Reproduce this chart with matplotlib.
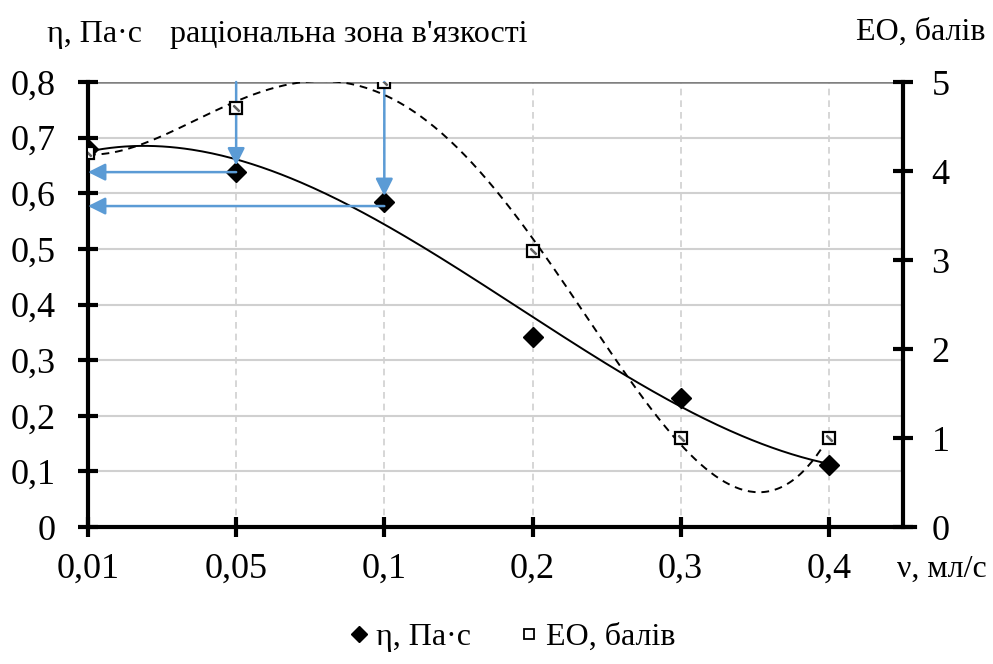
import numpy as np
import matplotlib
matplotlib.use("Agg")
import matplotlib.pyplot as plt

plt.rcParams['font.family'] = ['Liberation Serif', 'DejaVu Serif']

# data
flow_labels = ['0,01', '0,05', '0,1', '0,2', '0,3', '0,4']
viscosity = [0.68, 0.638, 0.585, 0.342, 0.232, 0.111]
eo_score = [4.2, 4.71, 5.0, 3.1, 1.0, 1.0]
left_ticks = [0, 0.1, 0.2, 0.3, 0.4, 0.5, 0.6, 0.7, 0.8]
left_tick_labels = ['0', '0,1', '0,2', '0,3', '0,4', '0,5', '0,6', '0,7', '0,8']
right_ticks = [0, 1, 2, 3, 4, 5]

x = np.arange(len(flow_labels))
xs = np.linspace(0, len(flow_labels) - 1, 300)
blue = '#5b9bd5'

fig = plt.figure(figsize=(9.93, 6.64), dpi=100)
ax = fig.add_axes([0.0886, 0.2063, 0.8207, 0.6702])
ax2 = ax.twinx()

# grid
for xi in x[1:]:
    ax.axvline(xi, color='#d0d0d0', lw=1.2, ls=(0, (4, 3)), zorder=0)
for yt in left_ticks[1:-1]:
    ax.axhline(yt, color='#d0d0d0', lw=1.5, zorder=0)
ax.axhline(0.8, color='#808080', lw=1.8, zorder=0)

# trendlines
p_eta = np.polyfit(x, viscosity, 3)
p_eo = np.polyfit(x, eo_score, 4)
ax.plot(xs, np.polyval(p_eta, xs), color='black', lw=1.4, zorder=3)
ax2.plot(xs, np.polyval(p_eo, xs), color='black', lw=1.4, ls=(0, (4, 3)), zorder=3)

# markers
ax.plot(x, viscosity, ls='none', marker='D', ms=10, color='black', zorder=4)
ax2.plot(x, eo_score, ls='none', marker='s', ms=8.5, mfc='white', mec='black', mew=1.6, zorder=4)
ax2.plot(x, eo_score, ls='none', marker=(2, 2, 45), ms=6, mec='#606060', mew=1.6, zorder=5)

# arrows
arr = dict(arrowstyle='-|>', color=blue, lw=1.8, mutation_scale=26, shrinkA=0, shrinkB=0)
ax.annotate('', xy=(1, viscosity[1] + 0.012), xytext=(1, 0.8), arrowprops=arr, zorder=6)
ax.annotate('', xy=(0, 0.638), xytext=(1, 0.638), arrowprops=arr, zorder=6)
ax.annotate('', xy=(2, viscosity[2] + 0.01), xytext=(2, 0.8), arrowprops=arr, zorder=6)
ax.annotate('', xy=(0, 0.577), xytext=(2, 0.577), arrowprops=arr, zorder=6)

ax.set_xlim(0, 5.5)
ax.set_ylim(0, 0.8)
ax2.set_ylim(0, 5)
ax.set_xticks(x)
ax.set_xticklabels(flow_labels)
ax.set_yticks(left_ticks)
ax.set_yticklabels(left_tick_labels)
ax2.set_yticks(right_ticks)

for a in (ax, ax2):
    for s in a.spines.values():
        s.set_visible(False)
ax.spines['left'].set_visible(True)
ax.spines['bottom'].set_visible(True)
ax2.spines['right'].set_visible(True)
ax.spines['left'].set_linewidth(3)
ax.spines['bottom'].set_linewidth(3)
ax2.spines['right'].set_linewidth(3)
ax.spines['bottom'].set_bounds(0, 5.58)

ax.tick_params(axis='y', direction='inout', length=15, width=3, labelsize=26, pad=16)
ax.tick_params(axis='x', direction='inout', length=15, width=3, labelsize=26, pad=11)
ax2.tick_params(axis='y', direction='inout', length=15, width=3, labelsize=26, pad=13)

fig.text(0.047, 0.937, 'η, Па·с', fontsize=23, va='baseline', ha='left')
fig.text(0.171, 0.937, "раціональна зона в'язкості", fontsize=23, va='baseline', ha='left')
fig.text(0.992, 0.94, 'ЕО, балів', fontsize=23, va='baseline', ha='right')
fig.text(0.994, 0.142, 'ν, мл/с', fontsize=23, va='center', ha='right')

h1 = ax.plot([], [], ls='none', marker='D', ms=8, color='black', label='η, Па·с')[0]
h2 = ax.plot([], [], ls='none', marker='s', ms=7, mfc='white', mec='black', mew=1.3, label='ЕО, балів')[0]
fig.legend(handles=[h1, h2], loc='center', bbox_to_anchor=(0.513, 0.04), ncol=2, frameon=False,
           fontsize=23, handletextpad=0.05, columnspacing=1.3, handlelength=1.0)

fig.savefig('out.png', dpi=100)
